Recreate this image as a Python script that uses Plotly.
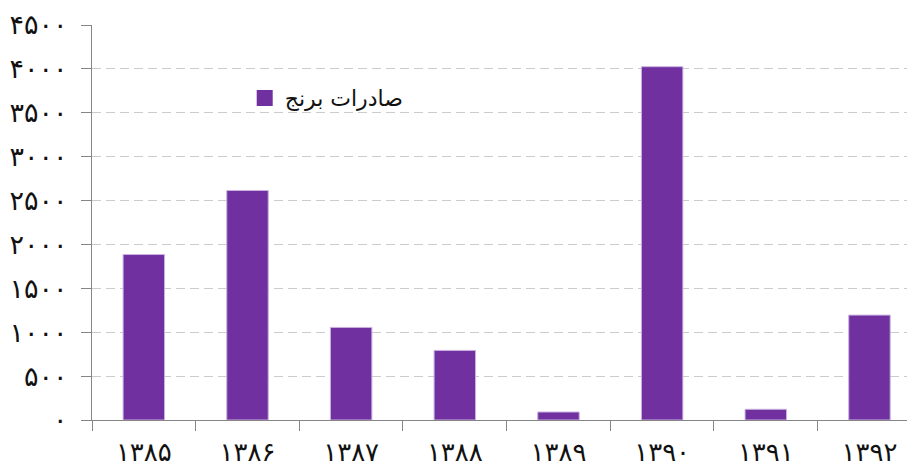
import plotly.graph_objects as go

years = ["۱۳۸۵", "۱۳۸۶", "۱۳۸۷", "۱۳۸۸", "۱۳۸۹", "۱۳۹۰", "۱۳۹۱", "۱۳۹۲"]
exports = [1885, 2615, 1055, 793, 91, 4025, 122, 1195]
series_name = "صادرات برنج"
y_tick_vals = [0, 500, 1000, 1500, 2000, 2500, 3000, 3500, 4000, 4500]
y_tick_text = ["۰", "۵۰۰", "۱۰۰۰", "۱۵۰۰", "۲۰۰۰", "۲۵۰۰", "۳۰۰۰", "۳۵۰۰", "۴۰۰۰", "۴۵۰۰"]

bar_color = "#7030A0"

fig = go.Figure()
fig.add_trace(go.Bar(
    x=years, y=exports, name=series_name,
    marker=dict(color=bar_color, line=dict(color="#C9B3E0", width=1)),
    width=0.4, showlegend=False,
))
# legend entry with a larger square symbol
fig.add_trace(go.Scatter(
    x=[None], y=[None], mode="markers", name=series_name,
    marker=dict(symbol="square", size=16, color=bar_color),
    showlegend=True,
))

font_family = "DejaVu Sans, Noto Sans, sans-serif"
# page body has an 8px default margin, so the figure is sized to fit the window
fig.update_layout(
    width=907, height=462,
    margin=dict(l=84, r=2, t=17, b=50),
    paper_bgcolor="white", plot_bgcolor="white",
    font=dict(family=font_family, color="#222222"),
    showlegend=True,
    legend=dict(x=0.186, y=0.815, xanchor="left", yanchor="middle",
                font=dict(size=22, color="#111111"), bgcolor="rgba(0,0,0,0)",
                itemwidth=30),
    xaxis=dict(
        type="category", range=[-0.5, 7.42], automargin=False,
        showgrid=False, showline=True, linecolor="#868686", linewidth=1,
        ticks="outside", tickson="boundaries", ticklen=10, tickcolor="#868686",
        tickfont=dict(size=26, color="#111111"), ticklabelstandoff=9,
    ),
    yaxis=dict(
        range=[0, 4500], tickvals=y_tick_vals, ticktext=y_tick_text,
        automargin=False,
        showgrid=True, gridcolor="#CCCCCC", griddash="9px,5px", gridwidth=1,
        showline=True, linecolor="#868686", linewidth=1,
        ticks="outside", ticklen=10, tickcolor="#868686",
        tickfont=dict(size=27, color="#111111"), ticklabelstandoff=8,
        zeroline=False,
    ),
)
fig.write_html("out.html")
